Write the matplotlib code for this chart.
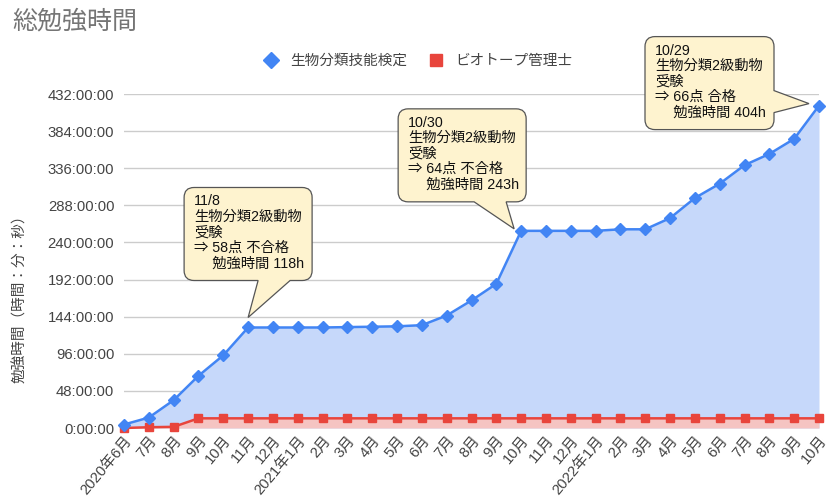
import matplotlib
matplotlib.use("Agg")
import matplotlib.pyplot as plt
import matplotlib.transforms as mtransforms
from matplotlib.path import Path
from matplotlib.patches import PathPatch
from matplotlib.lines import Line2D

plt.rcParams['font.family'] = ['Liberation Sans', 'Noto Sans CJK JP', 'DejaVu Sans']

months = ['2020年6月', '7月', '8月', '9月', '10月', '11月', '12月',
          '2021年1月', '2月', '3月', '4月', '5月', '6月', '7月', '8月', '9月',
          '10月', '11月', '12月', '2022年1月', '2月', '3月', '4月', '5月',
          '6月', '7月', '8月', '9月', '10月']
bio_hours = [4.5, 13.5, 36, 67.5, 94, 130, 130, 130, 130, 130.5, 131, 131.5,
             133, 145.5, 165, 186.5, 255, 255, 255, 255, 257, 257, 271.5,
             297.5, 316, 340, 354.5, 374, 417]
biotope_hours = [0, 1, 1.5, 12.5, 12.5, 12.5, 12.5, 12.5, 12.5, 12.5, 12.5,
                 12.5, 12.5, 12.5, 12.5, 12.5, 12.5, 12.5, 12.5, 12.5, 12.5,
                 12.5, 12.5, 12.5, 12.5, 12.5, 12.5, 12.5, 12.5]
y_ticks = [0, 48, 96, 144, 192, 240, 288, 336, 384, 432]
series_names = ['生物分類技能検定', 'ビオトープ管理士']
notes = [
    (5, '11/8\n生物分類2級動物\n受験\n⇒ 58点 不合格\n　 勉強時間 118h'),
    (16, '10/30\n生物分類2級動物\n受験\n⇒ 64点 不合格\n　 勉強時間 243h'),
    (28, '10/29\n生物分類2級動物\n受験\n⇒ 66点 合格\n　 勉強時間 404h'),
]

BLUE = '#4285F4'
RED = '#E8453C'
BLUE_FILL = '#C6D8FA'
RED_FILL = '#F5C4C2'
TXT = '#444444'

fig = plt.figure(figsize=(8.32, 5.03), dpi=100)
ax = fig.add_axes([124 / 832, 75 / 503, (819 - 124) / 832, (428 - 94) / 503])

x = list(range(len(months)))
ax.fill_between(x, 0, bio_hours, color=BLUE_FILL, lw=0, zorder=1)
ax.fill_between(x, 0, biotope_hours, color=RED_FILL, lw=0, zorder=2)
ax.plot(x, bio_hours, color=BLUE, lw=1.8, marker='D', ms=6, zorder=4, clip_on=False)
ax.plot(x, biotope_hours, color=RED, lw=1.8, marker='s', ms=6, zorder=3, clip_on=False)

ax.set_xlim(0, len(months) - 1)
ax.set_ylim(0, 432)
ax.set_yticks(y_ticks)
ax.set_yticklabels([f'{h}:00:00' for h in y_ticks], fontsize=10.7, color=TXT)
ax.set_xticks(x)
ax.set_xticklabels(months, rotation=50, ha='right', va='top',
                   rotation_mode='anchor', fontsize=10.7, color=TXT)
ax.tick_params(axis='both', length=0)
ax.tick_params(axis='y', pad=7)
ax.tick_params(axis='x', pad=4)
ax.grid(axis='y', color='#CCCCCC', lw=1, zorder=0)
ax.set_axisbelow(True)
for s in ax.spines.values():
    s.set_visible(False)

fig.text(20 / 832, 1 - 295 / 503, '勉強時間（時間：分：秒）', rotation=90, ha='center',
         va='center', fontsize=10.5, color=TXT)
fig.text(12 / 832, 1 - 21 / 503, '総勉強時間', fontsize=18, color='#757575', va='center')

handles = [Line2D([], [], color=BLUE, marker='D', ls='none', ms=8),
           Line2D([], [], color=RED, marker='s', ls='none', ms=8)]
fig.legend(handles, series_names, loc='center', bbox_to_anchor=(0.502, 1 - 61 / 503),
           ncol=2, frameon=False, fontsize=10.5, labelcolor=TXT,
           handletextpad=0.8, columnspacing=1.5, handlelength=1.0)


def callout(xi, text, left, right, bottom, top, side, base, tip, r=10):
    trans = mtransforms.Affine2D() + mtransforms.ScaledTranslation(
        xi, bio_hours[xi], ax.transData)
    verts = [(left + r, top), (right - r, top), (right, top), (right, top - r)]
    codes = [Path.MOVETO, Path.LINETO, Path.CURVE3, Path.CURVE3]
    if side == 'right':
        verts += [(right, base[1]), tip, (right, base[0])]
        codes += [Path.LINETO] * 3
    verts += [(right, bottom + r), (right, bottom), (right - r, bottom)]
    codes += [Path.LINETO, Path.CURVE3, Path.CURVE3]
    if side == 'bottom':
        verts += [(base[1], bottom), tip, (base[0], bottom)]
        codes += [Path.LINETO] * 3
    verts += [(left + r, bottom), (left, bottom), (left, bottom + r),
              (left, top - r), (left, top), (left + r, top), (left + r, top)]
    codes += [Path.LINETO, Path.CURVE3, Path.CURVE3, Path.LINETO,
              Path.CURVE3, Path.CURVE3, Path.CLOSEPOLY]
    patch = PathPatch(Path(verts, codes), transform=trans, facecolor='#FEF3CF',
                      edgecolor='#555555', lw=0.9, zorder=10, clip_on=False)
    ax.add_patch(patch)
    ax.text(left + 10, top - 7, text, transform=trans, ha='left', va='top',
            fontsize=10.3, color='#111111', linespacing=1.13, zorder=11, clip_on=False)


callout(notes[0][0], notes[0][1], -64, 64, 47, 140, 'bottom', (10, 42), (0, 10))
callout(notes[1][0], notes[1][1], -123, 5, 29, 122, 'bottom', (-47, -15), (-7, 2))
callout(notes[2][0], notes[2][1], -174, -45, -24, 69, 'right', (-7, 15), (-10, 2))

fig.savefig('out.png', dpi=100)
